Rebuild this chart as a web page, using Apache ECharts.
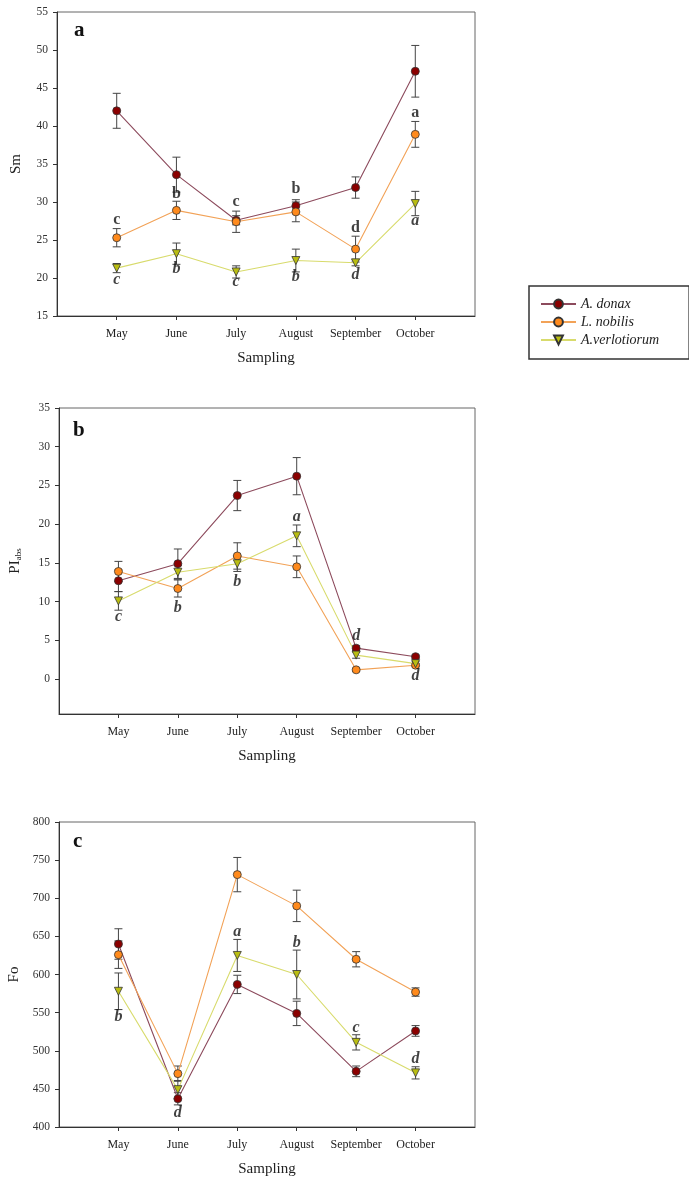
<!DOCTYPE html>
<html>
<head>
<meta charset="utf-8">
<title>Sm, PIabs and Fo</title>
<script src="https://cdn.jsdelivr.net/npm/echarts@6/dist/echarts.min.js"></script>
<style>
  html, body { margin: 0; padding: 0; background: #fff; }
  #chart { width: 689px; height: 1181px; }
</style>
</head>
<body>
<div id="chart"></div>
<script>
const months = ['May', 'June', 'July', 'August', 'September', 'October'];

// panel a - Sm
const smDonax = [42.0, 33.6, 27.6, 29.5, 31.9, 47.2];
const smDonaxErr = [2.3, 2.3, 0.6, 0.8, 1.4, 3.4];
const smNobilis = [25.3, 28.9, 27.4, 28.7, 23.8, 38.9];
const smNobilisErr = [1.2, 1.2, 1.4, 1.3, 1.7, 1.7];
const smVerlot = [21.3, 23.2, 20.8, 22.3, 22.0, 29.8];
const smVerlotErr = [0.6, 1.4, 0.8, 1.5, 0.4, 1.6];
const smLettersTop = ['c', 'b', 'c', 'b', 'd', 'a'];
const smLettersTopY = [27.7, 31.1, 30.0, 31.7, 26.6, 41.7];
const smLettersBottom = ['c', 'b', 'c', 'b', 'd', 'a'];
const smLettersBottomY = [19.8, 21.2, 19.5, 20.2, 20.4, 27.5];

// panel b - PIabs
const piDonax = [12.7, 14.9, 23.7, 26.2, 4.0, 2.9];
const piDonaxErr = [1.4, 1.9, 1.95, 2.4, 0.3, 0.2];
const piNobilis = [13.9, 11.7, 15.9, 14.5, 1.2, 1.8];
const piNobilisErr = [1.3, 1.1, 1.7, 1.4, 0.2, 0.2];
const piVerlot = [10.1, 13.8, 14.9, 18.5, 3.1, 2.0];
const piVerlotErr = [1.2, 0.9, 1.0, 1.4, 0.4, 0.3];
const piLetters = ['c', 'b', 'b', 'a', 'd', 'd'];
const piLettersY = [8.1, 9.2, 12.5, 21.0, 5.6, 0.4];
const piTicks = [0, 5, 10, 15, 20, 25, 30, 35];

// panel c - Fo
const foDonax = [640, 437, 587, 549, 473, 526];
const foDonaxErr = [20, 8, 12, 16, 7, 7];
const foNobilis = [626, 470, 731, 690, 620, 577];
const foNobilisErr = [18, 10, 22.5, 20.6, 10, 5.5];
const foVerlot = [578, 449, 625, 600, 511, 471];
const foVerlotErr = [24, 12, 21, 32, 10, 8];
const foLetters = ['b', 'd', 'a', 'b', 'c', 'd'];
const foLettersY = [545, 418, 656.5, 641, 529.5, 490];

const serif = 'Liberation Serif';
const positions = [1, 2, 3, 4, 5, 6];

const species = [
    {name: 'A. donax', fill: '#8b0000', line: '#8c4a5c', symbol: 'circle', rotate: 0},
    {name: 'L. nobilis', fill: '#ff8a1c', line: '#f2a257', symbol: 'circle', rotate: 0},
    {name: 'A.verlotiorum', fill: '#b9bd12', line: '#d8db6c', symbol: 'triangle', rotate: 180}
];

const chart = echarts.init(document.getElementById('chart'));

// error bar with whiskers
function renderErrorBar(params, api) {
    const x = api.value(0);
    const y = api.value(1);
    const e = api.value(2);
    const hi = api.coord([x, y + e]);
    const lo = api.coord([x, y - e]);
    const w = 4;
    const style = {stroke: '#444', lineWidth: 1};
    return {
        type: 'group',
        children: [
            {type: 'line', shape: {x1: hi[0], y1: hi[1], x2: lo[0], y2: lo[1]}, style: style},
            {type: 'line', shape: {x1: hi[0] - w, y1: hi[1], x2: hi[0] + w, y2: hi[1]}, style: style},
            {type: 'line', shape: {x1: lo[0] - w, y1: lo[1], x2: lo[0] + w, y2: lo[1]}, style: style}
        ]
    };
}

function pairs(values) {
    return values.map((v, i) => [positions[i], v]);
}

function panelSeries(idx, sets) {
    const out = [];
    sets.forEach((s) => {
        out.push({
            type: 'custom',
            xAxisIndex: idx,
            yAxisIndex: idx,
            renderItem: renderErrorBar,
            encode: {x: 0, y: 1},
            data: s.values.map((v, i) => [positions[i], v, s.err[i]]),
            z: 1,
            silent: true
        });
    });
    sets.forEach((s, k) => {
        const sp = species[k];
        out.push({
            name: sp.name,
            type: 'line',
            xAxisIndex: idx,
            yAxisIndex: idx,
            data: pairs(s.values),
            symbol: sp.symbol,
            symbolRotate: sp.rotate,
            symbolSize: 8,
            itemStyle: {color: sp.fill, borderColor: '#333', borderWidth: 0.8},
            lineStyle: {color: sp.line, width: 1.1},
            z: 3
        });
    });
    return out;
}

function letterSeries(idx, letters, ys, italic) {
    return {
        type: 'scatter',
        xAxisIndex: idx,
        yAxisIndex: idx,
        symbolSize: 0,
        silent: true,
        z: 5,
        data: letters.map((t, i) => [positions[i], ys[i], t]),
        label: {
            show: true,
            position: 'inside',
            formatter: p => p.value[2],
            fontFamily: serif,
            fontSize: 16,
            fontWeight: 'bold',
            fontStyle: italic ? 'italic' : 'normal',
            color: '#111'
        }
    };
}

const grids = [
    {left: 57, top: 12, width: 418, height: 304},
    {left: 59, top: 408, width: 416, height: 306},
    {left: 59, top: 822, width: 416, height: 305}
].map(g => Object.assign({
    show: true,
    borderColor: '#666',
    borderWidth: 1,
    backgroundColor: 'transparent',
    containLabel: false,
    outerBoundsMode: 'none'
}, g));

const xAxes = [0, 1, 2].map(i => ({
    type: 'value',
    gridIndex: i,
    min: 0,
    max: 7,
    interval: 1,
    name: 'Sampling',
    nameLocation: 'middle',
    nameGap: 35,
    nameMoveOverlap: false,
    nameTextStyle: {fontFamily: serif, fontSize: 15, color: '#222'},
    axisLine: {onZero: false, lineStyle: {color: '#333', width: 1}},
    axisTick: {show: true, inside: false, length: 4, customValues: positions, lineStyle: {color: '#333'}},
    axisLabel: {
        customValues: positions,
        formatter: v => months[v - 1] || '',
        fontFamily: serif,
        fontSize: 12,
        color: '#222',
        margin: 12
    },
    splitLine: {show: false}
}));

function yAxis(i, opts) {
    return Object.assign({
        type: 'value',
        gridIndex: i,
        nameLocation: 'middle',
        nameRotate: 90,
        nameMoveOverlap: false,
        nameTextStyle: {fontFamily: serif, fontSize: 15, color: '#222'},
        axisLine: {show: true, onZero: false, lineStyle: {color: '#333', width: 1}},
        axisTick: {show: true, inside: false, length: 4, lineStyle: {color: '#333'}},
        axisLabel: {fontFamily: serif, fontSize: 11.5, color: '#333', margin: 9},
        splitLine: {show: false}
    }, opts);
}

const yAxes = [
    yAxis(0, {min: 15, max: 55, interval: 5, name: 'Sm', nameGap: 33}),
    yAxis(1, {
        min: -4.5, max: 35, name: '{m|PI}{s|abs}', nameGap: 36,
        nameTextStyle: {
            fontFamily: serif, fontSize: 15, color: '#222',
            rich: {
                m: {fontFamily: serif, fontSize: 15, color: '#222'},
                s: {fontFamily: serif, fontSize: 9, color: '#222', verticalAlign: 'bottom', padding: [6, 0, 0, 0]}
            }
        },
        axisTick: {show: true, inside: false, length: 4, customValues: piTicks, lineStyle: {color: '#333'}},
        axisLabel: {customValues: piTicks, fontFamily: serif, fontSize: 11.5, color: '#333', margin: 9}
    }),
    yAxis(2, {min: 400, max: 800, interval: 50, name: 'Fo', nameGap: 37})
];

let series = [];
series = series.concat(panelSeries(0, [
    {values: smDonax, err: smDonaxErr},
    {values: smNobilis, err: smNobilisErr},
    {values: smVerlot, err: smVerlotErr}
]));
series.push(letterSeries(0, smLettersTop, smLettersTopY, false));
series.push(letterSeries(0, smLettersBottom, smLettersBottomY, true));
series = series.concat(panelSeries(1, [
    {values: piDonax, err: piDonaxErr},
    {values: piNobilis, err: piNobilisErr},
    {values: piVerlot, err: piVerlotErr}
]));
series.push(letterSeries(1, piLetters, piLettersY, true));
series = series.concat(panelSeries(2, [
    {values: foDonax, err: foDonaxErr},
    {values: foNobilis, err: foNobilisErr},
    {values: foVerlot, err: foVerlotErr}
]));
series.push(letterSeries(2, foLetters, foLettersY, true));

const panelTag = (text, x, y) => ({
    type: 'text',
    left: x,
    top: y,
    style: {text: text, fontFamily: serif, fontSize: 21, fontWeight: 'bold', fill: '#111'}
});

chart.setOption({
    animation: false,
    backgroundColor: '#fff',
    grid: grids,
    xAxis: xAxes,
    yAxis: yAxes,
    legend: {
        data: species.map(s => s.name),
        orient: 'vertical',
        left: 529,
        top: 286,
        width: 153,
        padding: [11, 30, 12, 11],
        itemGap: 4,
        itemWidth: 35,
        itemHeight: 11,
        borderColor: '#333',
        borderWidth: 1.5,
        textStyle: {fontFamily: serif, fontSize: 14, fontStyle: 'italic', color: '#222'}
    },
    graphic: [
        panelTag('a', 74, 20),
        panelTag('b', 73, 420),
        panelTag('c', 73, 831)
    ],
    series: series
});
</script>
</body>
</html>
